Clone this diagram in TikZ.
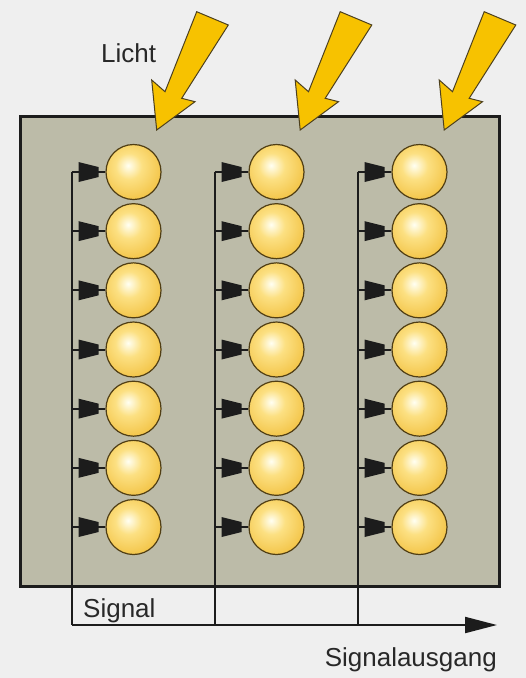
\documentclass[tikz,border=0pt]{standalone}
\usepackage{fontspec}
\setmainfont{Liberation Sans}
\usetikzlibrary{arrows.meta,calc}
\definecolor{bgc}{RGB}{239,239,239}
\definecolor{panelc}{RGB}{188,187,168}
\definecolor{linec}{RGB}{28,28,28}
\definecolor{boltc}{RGB}{247,194,0}
\definecolor{boltline}{RGB}{77,64,30}
\definecolor{bulbline}{RGB}{80,62,20}
\definecolor{bulbmid}{RGB}{252,224,130}
\definecolor{bulbedge}{RGB}{238,182,42}
\definecolor{txtc}{RGB}{40,40,40}
\pgfdeclareradialshading{bulb}{\pgfpoint{-5bp}{6bp}}{%
  color(0bp)=(white!95!yellow);
  color(12bp)=(bulbmid);
  color(34bp)=(bulbedge!80!bulbmid);
  color(48bp)=(bulbedge);
  color(100bp)=(bulbedge)}
\tikzset{
  panel/.style={draw=linec, line width=2.5pt, fill=panelc, minimum width=479pt, minimum height=470pt, inner sep=0pt, anchor=north west},
  cell/.style={circle, draw=bulbline, line width=1.2pt, shading=bulb, minimum size=55pt, inner sep=0pt},
  wire/.style={draw=linec, line width=2pt},
  plugc/.style={fill=linec},
  bolt/.style={fill=boltc, draw=boltline, line width=1pt, line join=miter},
  lbl/.style={text=txtc, font=\fontsize{26}{30}\selectfont, inner sep=0pt}
}
\begin{document}
\begin{tikzpicture}[x=1pt,y=-1pt]
\fill[bgc] (0,0) rectangle (526,678);
\useasboundingbox (0,0) rectangle (526,678);
% panel
\node[panel] (panel) at (19,115) {};
% light arrows
\foreach \s in {0,143.5,287.5} {
  \begin{scope}[xshift=\s]
  \draw[bolt] (196.7,11.7) -- (228.3,25) -- (181.7,98.3) -- (195,101.7)
     -- (156.7,130) -- (151.7,80) -- (165,91.7) -- cycle;
  \end{scope}
}
% columns
\foreach \c/\x in {1/133.5,2/276.5,3/419.5} {
  \coordinate (bus\c) at ({\x-62},625);
  \foreach \r in {1,...,7} {
    \coordinate (t\c\r) at ({\x-62},{172+(\r-1)*59.17});
    \node[cell] (c\c\r) at (\x,{172+(\r-1)*59.17}) {};
    \draw[wire] (t\c\r) -- (c\c\r.west);
    \fill[plugc] ($(t\c\r)+(7,-10)$) -- ++(20,5) -- ++(0,10) -- ++(-20,5) -- cycle;
  }
  \draw[wire] (t\c1) -- (bus\c);
}
\coordinate (out) at (497,625);
\draw[wire,-{Triangle[length=32pt,width=16pt]}] (bus1) -- (out);
% labels
\node[lbl, anchor=base west] (licht) at (101,62) {Licht};
\node[lbl, anchor=base west] (signal) at (83,617) {Signal};
\node[lbl, anchor=base east] (ausgang) at (497,666) {Signalausgang};
\end{tikzpicture}
\end{document}
